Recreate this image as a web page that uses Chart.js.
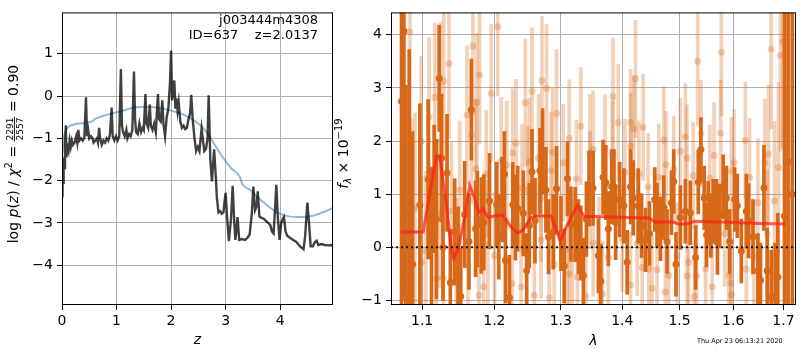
<!DOCTYPE html>
<html>
<head>
<meta charset="utf-8">
<script src="https://cdn.jsdelivr.net/npm/chart.js@4.4.0/dist/chart.umd.min.js"></script>
<style>
  body { margin: 0; background: #fff; }
  #wrap { position: relative; width: 800px; height: 350px; }
  canvas { position: absolute; top: 0; }
  #pz { left: 0; }
  #spec { left: 334px; }
</style>
</head>
<body>
<div id="wrap">
  <canvas id="pz" width="334" height="350"></canvas>
  <canvas id="spec" width="466" height="350"></canvas>
</div>
<script>
// redshift probability curve
var zGrid = [0.00, 0.01, 0.02, 0.03, 0.04, 0.055, 0.07, 0.08, 0.10, 0.12, 0.14, 0.16, 0.18, 0.20, 0.23, 0.26, 0.28, 0.30, 0.32, 0.35,
  0.38, 0.41, 0.44, 0.46, 0.48, 0.50, 0.53, 0.56, 0.58, 0.61, 0.64, 0.66, 0.68, 0.70, 0.73, 0.76, 0.79, 0.82, 0.85, 0.88,
  0.91, 0.93, 0.96, 0.99, 1.02, 1.05, 1.08, 1.10, 1.12, 1.15, 1.18, 1.20, 1.23, 1.26, 1.29, 1.32, 1.34, 1.36, 1.39, 1.42,
  1.45, 1.48, 1.50, 1.53, 1.55, 1.58, 1.61, 1.63, 1.66, 1.69, 1.72, 1.76, 1.78, 1.81, 1.84, 1.86, 1.89, 1.92, 1.95, 1.98,
  2.00, 2.02, 2.04, 2.06, 2.08, 2.10, 2.12, 2.14, 2.17, 2.20, 2.23, 2.26, 2.29, 2.32, 2.35, 2.37, 2.40, 2.43, 2.46, 2.49,
  2.52, 2.56, 2.59, 2.61, 2.64, 2.67, 2.69, 2.72, 2.75, 2.79, 2.82, 2.84, 2.87, 2.90, 2.93, 2.96, 3.00, 3.03, 3.06, 3.10,
  3.13, 3.16, 3.18, 3.22, 3.25, 3.30, 3.36, 3.40, 3.44, 3.48, 3.51, 3.54, 3.57, 3.59, 3.62, 3.66, 3.70, 3.74, 3.78, 3.82,
  3.85, 3.88, 3.91, 3.93, 3.96, 3.99, 4.02, 4.05, 4.07, 4.10, 4.13, 4.18, 4.24, 4.30, 4.36, 4.43, 4.46, 4.50, 4.53, 4.56,
  4.60, 4.64, 4.67, 4.70, 4.76, 4.82, 4.88, 4.94, 4.97];
var logPz = [-2.37, -1.95, -2.05, -1.45, -1.70, -1.20, -0.69, -1.45, -1.20, -1.30, -1.05, -1.20, -1.05, -1.15, -1.10, -0.95, -1.10, -0.80, -1.05, -1.00,
  -1.05, -0.98, -0.03, -0.95, -0.80, -1.00, -0.95, -1.00, -1.10, -1.05, -1.00, -1.10, -0.75, -1.00, -1.15, -1.05, -1.10, -1.00, -1.05, -0.90,
  -0.27, -0.95, -1.05, -0.95, -1.05, -0.95, 0.64, -0.70, -0.85, -0.95, -0.80, -1.00, -0.90, -0.95, -0.80, 0.58, -0.55, -0.85, -0.90, -0.65,
  -0.85, -0.75, -0.80, 0.05, -0.65, -0.75, -0.20, -0.70, -0.80, -0.65, -0.85, 0.05, -0.55, -0.60, -0.10, -0.65, -0.95, -0.50, -0.30, 0.30,
  1.08, -0.10, 0.20, 0.37, -0.30, -0.05, -0.35, -0.15, -0.60, -0.75, -0.70, -0.78, -0.75, -0.55, -0.40, 0.03, -0.60, -1.00, -1.30, -1.20,
  -1.30, -0.77, -1.10, -1.30, -1.25, -1.00, 0.02, -1.50, -2.02, -1.26, -1.90, -2.40, -2.75, -2.72, -2.78, -2.75, -2.29, -2.90, -3.43, -2.90,
  -2.12, -3.00, -3.40, -2.86, -3.40, -3.38, -3.40, -3.35, -3.28, -2.80, -2.14, -2.70, -2.60, -2.25, -2.85, -2.88, -2.90, -2.95, -3.00, -3.05,
  -3.20, -3.25, -2.60, -2.10, -2.90, -3.40, -3.00, -2.90, -2.86, -3.20, -3.30, -3.35, -3.40, -3.45, -3.55, -3.62, -3.30, -2.52, -3.00, -3.55,
  -3.55, -3.45, -3.42, -3.52, -3.50, -3.52, -3.53, -3.52, -3.55];

// prior
var zPrior = [0.00, 0.03, 0.06, 0.10, 0.15, 0.25, 0.37, 0.50, 0.55, 0.61, 0.75, 0.92, 1.10, 1.28, 1.45, 1.59, 1.83, 2.08, 2.20, 2.32,
  2.45, 2.57, 2.69, 2.80, 2.96, 3.10, 3.27, 3.30, 3.45, 3.57, 3.75, 3.94, 4.18, 4.43, 4.60, 4.74, 4.88, 4.97];
var logPrior = [-1.45, -1.00, -0.85, -0.75, -0.70, -0.66, -0.64, -0.62, -0.60, -0.54, -0.47, -0.41, -0.35, -0.28, -0.26, -0.26, -0.29, -0.37, -0.42, -0.50,
  -0.60, -0.73, -0.92, -1.15, -1.47, -1.70, -1.93, -2.06, -2.22, -2.37, -2.57, -2.75, -2.85, -2.86, -2.83, -2.77, -2.70, -2.64];

var zTicks = [0, 1, 2, 3, 4];
var pzTicks = [-4, -3, -2, -1, 0, 1];

// spectrum: well-measured pixels
var waveMain = [1.0730, 1.0761, 1.0787, 1.0830, 1.0874, 1.0970, 1.1080, 1.1125, 1.1160, 1.1190, 1.1228, 1.1260, 1.1280, 1.1335, 1.1380, 1.1440, 1.1486, 1.1523, 1.1578, 1.1638,
  1.1672, 1.1732, 1.1756, 1.1812, 1.1849, 1.1930, 1.2035, 1.2064, 1.2113, 1.2147, 1.2161, 1.2220, 1.2269, 1.2308, 1.2342, 1.2426, 1.2476, 1.2516, 1.2557, 1.2602,
  1.2678, 1.2718, 1.2769, 1.2809, 1.2882, 1.2933, 1.3002, 1.3054, 1.3105, 1.3159, 1.3227, 1.3279, 1.3317, 1.3359, 1.3407, 1.3450, 1.3515, 1.3602, 1.3641, 1.3679,
  1.3723, 1.3766, 1.3822, 1.3860, 1.3888, 1.3955, 1.4026, 1.4082, 1.4140, 1.4184, 1.4270, 1.4328, 1.4397, 1.4466, 1.4558, 1.4598, 1.4658, 1.4716, 1.4775, 1.4853,
  1.4894, 1.4935, 1.5014, 1.5104, 1.5195, 1.5292, 1.5341, 1.5390, 1.5452, 1.5495, 1.5526, 1.5575, 1.5619, 1.5681, 1.5700, 1.5743, 1.5808, 1.5870, 1.5933, 1.6029,
  1.6081, 1.6158, 1.6255, 1.6300, 1.6386, 1.6484, 1.6536, 1.6604, 1.6670, 1.6750, 1.6830, 1.6884, 1.7020, 1.7094, 1.7180];
var fluxMain = [2.75, 4.07, -0.95, 0.72, -0.32, 0.80, 1.28, 0.21, 1.10, 0.53, 3.18, 1.68, 0.00, 1.40, -0.66, 0.29, -0.24, -0.92, 0.62, 0.11,
  2.59, 0.35, 0.53, 0.41, 0.47, 0.87, 0.80, 0.20, 0.90, 1.38, -0.25, -0.95, 0.80, 0.56, 0.73, 0.64, -0.44, 0.41, 1.42, 0.50,
  1.44, 1.81, 1.08, 0.20, 0.29, 1.10, 0.26, -0.35, 1.29, 0.44, 0.43, 0.20, 0.08, -0.53, 0.53, 1.10, 1.11, -0.16, -0.64, 1.32,
  1.22, 0.35, 1.14, 1.14, 0.47, 0.90, 0.78, -0.28, 1.14, 0.93, 0.78, 0.41, 0.14, 0.26, 0.90, 0.61, 0.35, 0.75, 0.11, 0.84,
  1.24, -0.32, 0.56, 0.68, 0.65, -0.19, 1.23, 1.84, 0.93, 0.23, 0.64, 0.41, 0.68, 0.68, 0.09, 0.59, 1.14, 0.93, 0.11, 0.90,
  0.78, -0.07, 0.68, 0.50, 0.20, -0.44, -0.62, 1.12, -0.44, -0.95, -0.92, -0.56, 0.59, 1.61, 1.00];
var errMain = [5.0, 5.0, 4.0, 3.0, 2.5, 1.9, 1.5, 1.3, 1.2, 1.5, 1.0, 1.2, 1.0, 1.1, 1.0, 1.0, 1.0, 0.9, 1.0, 0.9,
  0.95, 0.9, 0.9, 0.9, 0.9, 0.9, 0.8, 0.8, 0.8, 0.8, 0.8, 0.8, 0.8, 0.8, 0.8, 0.8, 0.7, 0.8, 0.8, 0.8,
  0.8, 0.8, 0.8, 0.7, 0.7, 0.8, 0.7, 0.7, 0.7, 0.7, 0.7, 0.7, 0.7, 0.7, 0.7, 0.7, 0.7, 0.7, 0.7, 0.7,
  0.7, 0.7, 0.7, 0.7, 0.7, 0.7, 0.7, 0.6, 0.7, 0.7, 0.7, 0.6, 0.6, 0.6, 0.6, 0.6, 0.6, 0.6, 0.6, 0.6,
  0.6, 0.6, 0.6, 0.6, 0.6, 0.6, 0.6, 0.6, 0.6, 0.6, 0.6, 0.6, 0.6, 0.6, 0.6, 0.6, 0.6, 0.6, 0.6, 0.6,
  0.6, 0.6, 0.7, 0.7, 0.7, 0.7, 0.7, 0.8, 0.8, 0.9, 1.0, 1.2, 5.0, 6.0, 6.0];

// spectrum: faint (down-weighted) pixels
var waveFaint = [1.0796, 1.0840, 1.0861, 1.0905, 1.0987, 1.0992, 1.1049, 1.1093, 1.1169, 1.1193, 1.1237, 1.1246, 1.1282, 1.1290, 1.1362, 1.1395, 1.1464, 1.1509, 1.1610, 1.1624,
  1.1672, 1.1694, 1.1732, 1.1750, 1.1778, 1.1788, 1.1845, 1.1883, 1.1906, 1.1954, 1.2002, 1.2049, 1.2099, 1.2180, 1.2259, 1.2268, 1.2318, 1.2392, 1.2407, 1.2456,
  1.2491, 1.2516, 1.2557, 1.2591, 1.2656, 1.2693, 1.2695, 1.2708, 1.2779, 1.2820, 1.2846, 1.2871, 1.2897, 1.2933, 1.3038, 1.3105, 1.3132, 1.3135, 1.3184, 1.3247,
  1.3263, 1.3317, 1.3397, 1.3461, 1.3465, 1.3515, 1.3518, 1.3613, 1.3667, 1.3711, 1.3766, 1.3832, 1.3843, 1.3931, 1.3999, 1.4044, 1.4138, 1.4140, 1.4142, 1.4196,
  1.4225, 1.4253, 1.4282, 1.4339, 1.4356, 1.4442, 1.4454, 1.4511, 1.4598, 1.4628, 1.4716, 1.4746, 1.4757, 1.4805, 1.4894, 1.4953, 1.5014, 1.5104, 1.5133, 1.5136,
  1.5164, 1.5249, 1.5268, 1.5310, 1.5329, 1.5390, 1.5477, 1.5556, 1.5601, 1.5636, 1.5761, 1.5775, 1.5837, 1.5914, 1.5952, 1.5965, 1.5968, 1.6017, 1.6236, 1.6255,
  1.6319, 1.6405, 1.6484, 1.6622, 1.6669, 1.6695, 1.6749, 1.6816, 1.6896, 1.6937, 1.6986, 1.7033];
var fluxFaint = [-0.56, 4.05, 0.41, 0.73, 1.99, -0.28, -0.07, 2.45, 2.82, -0.58, 0.64, 2.84, -0.58, 3.12, 3.46, 0.68, -0.38, 1.08, 2.49, -0.35,
  2.11, 3.79, 1.48, 2.73, -0.90, 3.24, -0.74, 1.38, 0.05, 2.90, -0.16, 4.15, 1.62, 1.55, -0.68, 1.78, 1.96, -0.74, 1.11, 2.72,
  1.08, 1.61, 2.93, -0.90, 1.68, 0.93, 0.14, 3.14, 2.99, -0.95, 1.44, 1.79, -0.32, 2.52, 1.59, -0.04, 2.05, -0.50, -0.22, 1.29,
  -0.56, 2.28, -0.92, 1.78, 1.08, 1.84, 0.08, -0.05, -0.88, 1.87, -0.19, 1.75, 2.84, 2.35, 0.17, 1.41, -0.71, 2.35, 1.90, 2.23,
  3.17, 0.08, 1.38, -0.38, 2.26, 1.14, -0.41, -0.77, -0.42, 1.32, 2.02, -0.84, 1.56, -0.53, 1.47, -0.16, 1.81, 2.08, 1.68, -0.54,
  -0.28, 1.35, -0.92, -0.54, 3.50, 2.14, -0.41, 1.30, -0.74, 1.73, 2.15, 3.67, 0.26, -0.53, -0.67, 1.44, -0.89, 1.59, 2.01, -0.41,
  1.32, -0.19, 0.84, 1.59, 0.26, 1.75, 3.73, 0.87, 1.50, 3.61, 3.87, 0.56];
var errFaint = [2.5, 2.5, 2.0, 1.8, 1.6, 1.6, 1.5, 1.5, 1.4, 1.4, 1.4, 1.4, 1.3, 1.4, 1.4, 1.3, 1.3, 1.3, 1.3, 1.3,
  1.3, 1.3, 1.3, 1.3, 1.2, 1.3, 1.2, 1.2, 1.2, 1.3, 1.2, 1.3, 1.2, 1.2, 1.2, 1.2, 1.2, 1.2, 1.2, 1.2,
  1.2, 1.2, 1.2, 1.2, 1.2, 1.2, 1.1, 1.2, 1.2, 1.1, 1.1, 1.2, 1.1, 1.2, 1.1, 1.1, 1.1, 1.1, 1.1, 1.1,
  1.1, 1.1, 1.1, 1.1, 1.1, 1.1, 1.0, 1.0, 1.0, 1.0, 1.0, 1.0, 1.1, 1.1, 1.0, 1.0, 1.0, 1.0, 1.0, 1.0,
  1.1, 1.0, 1.0, 1.0, 1.0, 1.0, 1.0, 1.0, 1.0, 1.0, 1.0, 1.0, 1.0, 1.0, 1.0, 1.0, 1.0, 1.0, 1.0, 1.0,
  1.0, 1.0, 1.0, 1.0, 1.2, 1.0, 1.0, 1.0, 1.0, 1.0, 1.0, 1.2, 1.0, 1.0, 1.0, 1.0, 1.0, 1.0, 1.1, 1.1,
  1.1, 1.1, 1.2, 1.2, 1.2, 1.3, 1.5, 1.5, 1.6, 1.8, 2.0, 2.5];

// best-fit template
var waveModel = [1.0722, 1.1013, 1.1190, 1.1237, 1.1326, 1.1395, 1.1426, 1.1486, 1.1578, 1.1648, 1.1718, 1.1778, 1.1835, 1.1906, 1.2002, 1.2122, 1.2245, 1.2342, 1.2416, 1.2542,
  1.2617, 1.2846, 1.2949, 1.2990, 1.3080, 1.3159, 1.3263, 1.3369, 1.3559, 1.4111, 1.4454, 1.4570, 1.4864, 1.4983, 1.5104, 1.5286, 1.5908, 1.6555, 1.7040];
var fluxModel = [0.29, 0.29, 1.72, 1.72, 0.80, -0.05, -0.20, -0.05, 0.56, 1.17, 0.93, 0.65, 0.73, 0.56, 0.59, 0.61, 0.38, 0.27, 0.32, 0.56,
  0.59, 0.59, 0.26, 0.11, 0.37, 0.56, 0.79, 0.58, 0.58, 0.56, 0.55, 0.47, 0.48, 0.44, 0.44, 0.49, 0.47, 0.45, 0.44];

var waveRange = [1.0595, 1.7258];
var fluxRange = [-1.085, 4.42];
var waveTicks = [1.1, 1.2, 1.3, 1.4, 1.5, 1.6, 1.7];
var fluxTicks = [-1, 0, 1, 2, 3, 4];

var ORANGE = 'rgb(214,104,24)';
var ORANGE_FAINT = 'rgba(214,104,24,0.3)';

Chart.defaults.font.family = '"DejaVu Sans"';
Chart.defaults.font.size = 14;
Chart.defaults.color = '#000';

function pts(xs, ys) {
    return xs.map(function (x, i) { return { x: x, y: ys[i] }; });
}
function bars(xs, ys, es) {
    return xs.map(function (x, i) { return { x: x, y: [ys[i] - es[i], ys[i] + es[i]] }; });
}
function minus(v) {
    return String(v).replace('-', '\u2212');
}
function fixTicks(list) {
    return function (scale) { scale.ticks = list.map(function (v) { return { value: v }; }); };
}

// draws a run of text pieces along the current baseline
function drawRun(ctx, parts, x0) {
    var x = x0;
    parts.forEach(function (p) {
        if (p.frac) {
            ctx.font = '9px "DejaVu Sans"';
            var w = Math.max(ctx.measureText(p.frac[0]).width, ctx.measureText(p.frac[1]).width) + 2;
            ctx.textAlign = 'center';
            ctx.fillText(p.frac[0], x + w / 2, -4.5);
            ctx.fillText(p.frac[1], x + w / 2, 5.5);
            ctx.fillRect(x, -3.6, w, 0.9);
            ctx.textAlign = 'left';
            x += w;
        } else {
            ctx.font = p.f;
            ctx.fillText(p.t, x, p.dy || 0);
            x += ctx.measureText(p.t).width;
        }
    });
    return x - x0;
}
function runWidth(ctx, parts) {
    ctx.save();
    ctx.globalAlpha = 0;
    var w = drawRun(ctx, parts, 0);
    ctx.restore();
    return w;
}
function verticalLabel(ctx, parts, bx, cy) {
    ctx.save();
    ctx.fillStyle = '#000';
    ctx.textBaseline = 'alphabetic';
    ctx.textAlign = 'left';
    var w = runWidth(ctx, parts);
    ctx.translate(bx, cy);
    ctx.rotate(-Math.PI / 2);
    drawRun(ctx, parts, -w / 2);
    ctx.restore();
}

var frame = {
    id: 'frame',
    afterDraw: function (chart) {
        var a = chart.chartArea, ctx = chart.ctx;
        ctx.save();
        ctx.strokeStyle = '#000';
        ctx.lineWidth = 1;
        ctx.strokeRect(a.left + 0.5, a.top + 0.5, a.right - a.left - 1, a.bottom - a.top - 1);
        ctx.restore();
    }
};

var BIG = '14px "DejaVu Sans"', ITAL = 'italic 14px "DejaVu Sans"', SUP = '10px "DejaVu Sans"';

var pzText = {
    id: 'pzText',
    afterDraw: function (chart) {
        var ctx = chart.ctx, a = chart.chartArea;
        ctx.save();
        ctx.fillStyle = '#000';
        ctx.font = '13px "DejaVu Sans"';
        ctx.textAlign = 'right';
        ctx.fillText('j003444m4308', 318, 24);
        ctx.fillText('ID=637    z=2.0137', 318, 38.5);
        ctx.font = ITAL;
        ctx.textAlign = 'center';
        ctx.fillText('z', (a.left + a.right) / 2, 344);
        ctx.restore();
        verticalLabel(ctx, [
            { t: 'log ', f: BIG }, { t: 'p', f: ITAL }, { t: '(', f: BIG }, { t: 'z', f: ITAL }, { t: ') / ', f: BIG },
            { t: '\u03c7', f: ITAL }, { t: '2', f: SUP, dy: -6 }, { t: ' = ', f: BIG },
            { frac: ['2291', '2557'] }, { t: ' = 0.90', f: BIG }
        ], 17.5, 154);
    }
};

var specText = {
    id: 'specText',
    afterDraw: function (chart) {
        var ctx = chart.ctx, a = chart.chartArea;
        ctx.save();
        ctx.fillStyle = '#000';
        ctx.font = ITAL;
        ctx.textAlign = 'center';
        ctx.fillText('\u03bb', (a.left + a.right) / 2, 345);
        ctx.font = '6.5px "DejaVu Sans"';
        ctx.textAlign = 'left';
        ctx.fillText('Thu Apr 23 06:13:21 2020', 697 - 334, 342.5);
        ctx.restore();
        verticalLabel(ctx, [
            { t: 'f', f: ITAL }, { t: '\u03bb', f: 'italic 10px "DejaVu Sans"', dy: 3 }, { t: ' \u00d7 10', f: BIG },
            { t: '\u221219', f: SUP, dy: -6 }
        ], 347.5 - 334, 153.5);
    }
};

new Chart(document.getElementById('pz'), {
    type: 'line',
    data: {
        datasets: [
            { data: pts(zGrid, logPz), borderColor: 'rgba(0,0,0,0.75)', borderWidth: 2.4, pointRadius: 0, order: 1 },
            { data: pts(zPrior, logPrior), borderColor: 'rgba(31,119,180,0.5)', borderWidth: 2, pointRadius: 0, cubicInterpolationMode: 'monotone', order: 2 }
        ]
    },
    options: {
        responsive: false,
        animation: false,
        events: [],
        layout: { padding: { top: 1, right: 1, left: 0, bottom: 0 } },
        plugins: { legend: { display: false }, tooltip: { enabled: false } },
        scales: {
            x: {
                type: 'linear', min: 0, max: 4.97,
                afterBuildTicks: fixTicks(zTicks),
                afterFit: function (s) { s.height = 45; },
                grid: { color: '#b0b0b0', tickColor: '#000', tickLength: 5 },
                border: { display: false },
                ticks: { padding: 3, maxRotation: 0, callback: function (v) { return minus(v); } }
            },
            y: {
                type: 'linear', min: -4.94, max: 1.98,
                afterBuildTicks: fixTicks(pzTicks),
                afterFit: function (s) { s.width = 62; },
                grid: { color: '#b0b0b0', tickColor: '#000', tickLength: 5 },
                border: { display: false },
                ticks: { padding: 4, callback: function (v) { return minus(v); } }
            }
        }
    },
    plugins: [frame, pzText]
});

new Chart(document.getElementById('spec'), {
    type: 'scatter',
    data: {
        datasets: [
            { type: 'bar', data: bars(waveFaint, fluxFaint, errFaint), backgroundColor: ORANGE_FAINT, barThickness: 3, maxBarThickness: 3, grouped: false, borderWidth: 0, order: 6 },
            { type: 'scatter', data: pts(waveFaint, fluxFaint), backgroundColor: ORANGE_FAINT, pointRadius: 3.5, borderWidth: 0, order: 5 },
            { type: 'bar', data: bars(waveMain, fluxMain, errMain), backgroundColor: ORANGE, barThickness: 3, maxBarThickness: 3, grouped: false, borderWidth: 0, order: 4 },
            { type: 'scatter', data: pts(waveMain, fluxMain), backgroundColor: ORANGE, pointRadius: 3.5, borderWidth: 0, order: 3 },
            { type: 'line', data: pts(waveModel, fluxModel), borderColor: 'rgba(255,30,20,0.72)', borderWidth: 3, pointRadius: 0, order: 2 },
            { type: 'line', data: pts(waveRange, [0, 0]), borderColor: '#111', borderWidth: 2, borderDash: [2, 3], pointRadius: 0, order: 1 }
        ]
    },
    options: {
        responsive: false,
        animation: false,
        events: [],
        layout: { padding: { top: 1, right: 2, left: 0, bottom: 0 } },
        plugins: { legend: { display: false }, tooltip: { enabled: false } },
        scales: {
            x: {
                type: 'logarithmic', min: waveRange[0], max: waveRange[1],
                afterBuildTicks: fixTicks(waveTicks),
                afterFit: function (s) { s.height = 45; },
                grid: { color: '#b0b0b0', tickColor: '#000', tickLength: 5, offset: false },
                border: { display: false },
                ticks: { padding: 3, maxRotation: 0, autoSkip: false, callback: function (v) { return v.toFixed(1); } }
            },
            y: {
                type: 'linear', min: fluxRange[0], max: fluxRange[1],
                afterBuildTicks: fixTicks(fluxTicks),
                afterFit: function (s) { s.width = 57; },
                grid: { color: '#b0b0b0', tickColor: '#000', tickLength: 5 },
                border: { display: false },
                ticks: { padding: 4, callback: function (v) { return minus(v); } }
            }
        }
    },
    plugins: [frame, specText]
});
</script>
</body>
</html>
